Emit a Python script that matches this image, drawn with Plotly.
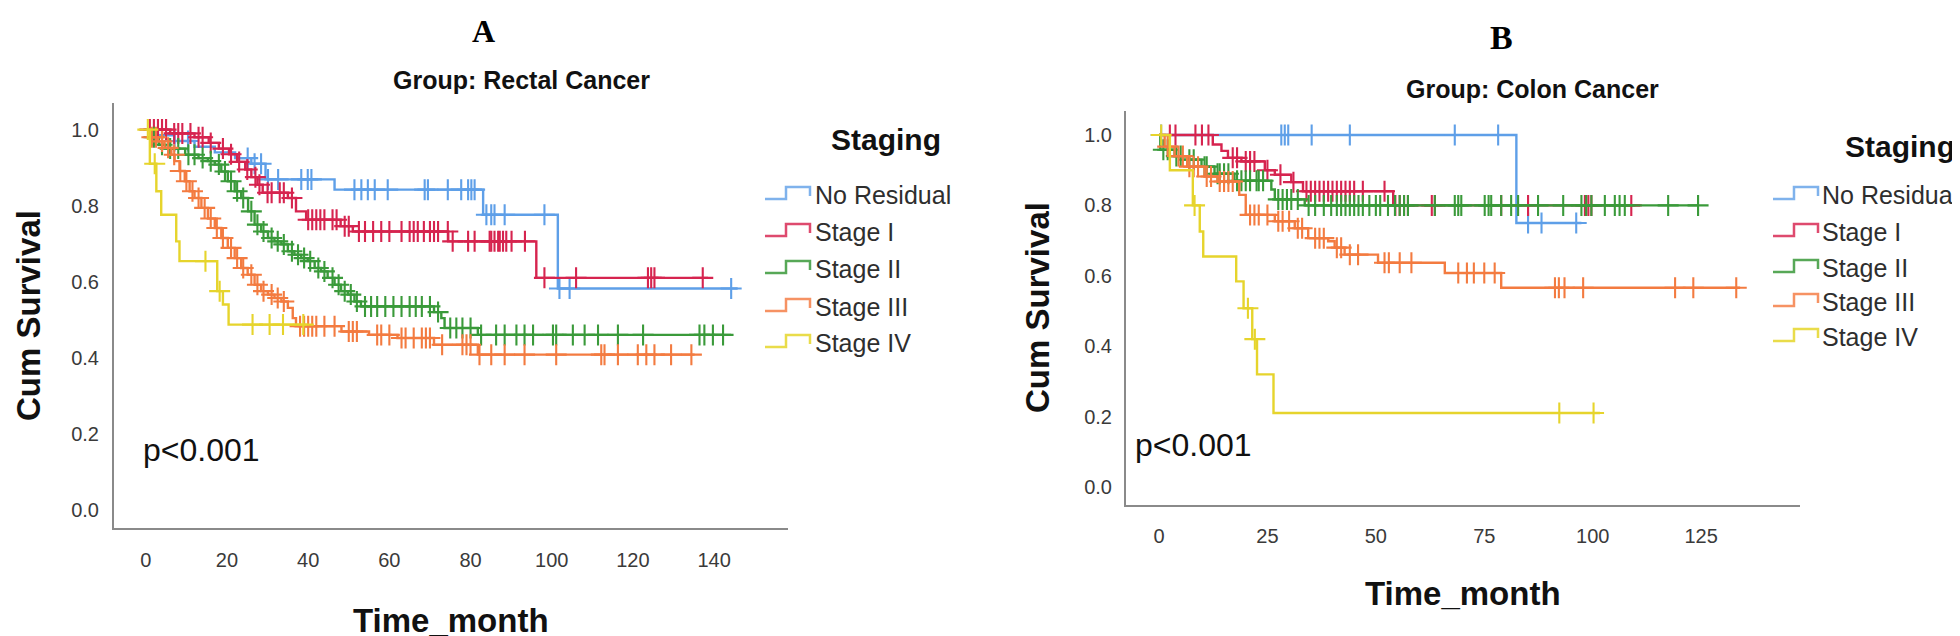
import numpy as np
import plotly.graph_objects as go

W, H = 1960, 636

# ---------------- data ----------------
group_names = ["No Residual", "Stage I", "Stage II", "Stage III", "Stage IV"]
line_colors = ["#5E9FE8", "#D6244F", "#3A9A3A", "#F37B40", "#E6D42C"]
legend_colors = ["#7FB2EC", "#DE4A6E", "#57A857", "#F69263", "#E9DC4A"]

y_ticks = [0.0, 0.2, 0.4, 0.6, 0.8, 1.0]
y_ticklabels = ["0.0", "0.2", "0.4", "0.6", "0.8", "1.0"]
A_x_ticks = [0, 20, 40, 60, 80, 100, 120, 140]
B_x_ticks = [0, 25, 50, 75, 100, 125]

# Panel A: Rectal Cancer (step times, survival after step; last = end of follow-up)
A_nores_t = [0, 3, 7, 12, 17, 22, 26, 29.5, 46.5, 83.1, 101.5, 145.8]
A_nores_s = [1.0, 0.985, 0.97, 0.955, 0.94, 0.925, 0.91, 0.869, 0.842, 0.776, 0.582, 0.582]
A_nores_c = [7.1, 10.4, 25.1, 26.8, 28.4, 30.1, 32.6, 38.3, 39.9, 40.8, 51.4, 53.1, 54.7,
             56.4, 59.6, 68.7, 69.5, 74.4, 77.7, 79.4, 80.2, 81.0, 83.9, 85.1, 85.9, 88.4,
             98.2, 101.9, 104.4, 144.2]

A_s1_t = [0, 6, 12, 15.5, 18, 20.5, 22.5, 24.5, 26, 27.5, 28.8, 35, 37, 39.5, 48, 51, 74.5, 96.2, 138.5]
A_s1_s = [1.0, 0.99, 0.98, 0.965, 0.95, 0.935, 0.915, 0.895, 0.875, 0.855, 0.834, 0.82, 0.785,
          0.763, 0.746, 0.732, 0.706, 0.61, 0.61]
A_s1_c = [1, 2, 3, 4, 5, 7, 8, 9, 11, 13, 14, 16, 19, 21, 23, 25, 27, 28, 30, 31, 33, 34, 36,
          40, 41, 42, 43, 44, 46, 47, 49, 50, 52.5, 54, 56, 58, 60, 63, 65, 66, 67, 68.5, 70,
          71, 72, 74.4, 75.6, 79.4, 81, 84.7, 85.1, 85.9, 86.8, 87.2, 88, 88.8, 90.1, 93.4,
          98.2, 106, 123.7, 124.5, 125.3, 137.2]

A_s2_t = [0, 1.6, 3.2, 4.8, 9.7, 13, 15.3, 17, 18.6, 20.2, 21.9, 23.5, 25.2, 26.8, 28.4, 30.1,
          31.7, 33.4, 35, 36.6, 38.3, 39.9, 41.6, 43.2, 44.8, 46.5, 48.1, 49.8, 51.4, 53, 71,
          72.8, 73.6, 81.8, 144.2]
A_s2_s = [1.0, 0.98, 0.96, 0.95, 0.934, 0.925, 0.917, 0.908, 0.89, 0.864, 0.838, 0.82, 0.785,
          0.75, 0.732, 0.715, 0.706, 0.698, 0.68, 0.671, 0.662, 0.654, 0.636, 0.627, 0.61,
          0.592, 0.575, 0.566, 0.548, 0.535, 0.52, 0.504, 0.478, 0.46, 0.46]
A_s2_c = [2, 4, 6, 8, 10.5, 12, 14, 16, 18, 19.5, 21, 22.5, 24, 26, 27.5, 29, 31, 32.5, 34, 36,
          37.5, 39, 40.5, 42.5, 44, 46, 47.5, 49, 50.5, 52, 54, 55.5, 57, 59, 61, 63, 65, 66.5,
          68, 70, 72, 75, 76.5, 78, 80, 82.6, 86.3, 88.4, 91.3, 93.3, 95.4, 100.3, 101.1,
          105.2, 108.1, 111.4, 116.3, 122.5, 136.4, 137.6, 139.7, 142.2]

A_s3_t = [0, 1.2, 3.0, 4.6, 6.3, 7.1, 8.3, 9.6, 10.8, 12, 13.7, 15.3, 17, 18.6, 20.2, 21.9,
          23.5, 25.1, 26.8, 28.4, 30.1, 31.7, 33.4, 35, 36.2, 37, 48.2, 55, 62, 71, 81.8, 135.2]
A_s3_s = [1.0, 0.98, 0.969, 0.952, 0.934, 0.917, 0.891, 0.864, 0.838, 0.82, 0.794, 0.766,
          0.741, 0.715, 0.689, 0.662, 0.636, 0.618, 0.592, 0.575, 0.566, 0.557, 0.548, 0.531,
          0.504, 0.483, 0.469, 0.46, 0.452, 0.434, 0.408, 0.408]
A_s3_c = [1.5, 2.5, 4, 5.5, 7, 8.5, 10, 11.5, 13, 14.5, 16, 17.5, 19, 21, 22.5, 24, 26, 27.5,
          29, 31, 32.5, 34, 38, 39, 40, 41, 42, 44, 46.5, 50, 51, 52, 57, 58, 60, 63, 64, 66,
          68, 69, 70, 73, 78, 79, 80, 82.2, 85.1, 88.4, 93.3, 101.1, 112.2, 113, 116.3, 121.2,
          123.3, 125.3, 129.4, 134.4]

A_s4_t = [0, 1.0, 2.6, 3.8, 7.5, 8.3, 17.6, 19.0, 20.4, 39.7]
A_s4_s = [1.0, 0.91, 0.838, 0.776, 0.706, 0.654, 0.575, 0.54, 0.487, 0.487]
A_s4_c = [0.5, 2.2, 14.7, 18.2, 26.3, 30.5, 33.8, 38.8]

# Panel B: Colon Cancer
B_nores_t = [0, 82.4, 97.4]
B_nores_s = [1.0, 0.75, 0.75]
B_nores_c = [0.5, 28.2, 29.0, 29.8, 35.2, 44.0, 68.2, 78.2, 85.1, 88.2, 96.2]

B_s1_t = [0, 12.4, 14.4, 15.9, 19, 24.4, 26.7, 30.5, 33.2, 54, 110.9]
B_s1_s = [1.0, 0.973, 0.955, 0.935, 0.925, 0.90, 0.887, 0.866, 0.84, 0.80, 0.80]
B_s1_c = [2.5, 3.8, 8.4, 9.9, 11.4, 17, 18, 20, 21, 22, 25, 28, 31, 34, 35, 36, 37, 38, 39, 40,
          41, 42, 43, 44, 45, 47, 52, 54.5, 55.5, 56.5, 57.4, 62.9, 63.6, 78.9, 85.1, 98.2,
          99.0, 99.7, 108.9]

B_s2_t = [0, 0.3, 3.6, 6.7, 9.8, 12.8, 17.4, 25.9, 26.7, 33.6, 124.5]
B_s2_s = [1.0, 0.958, 0.94, 0.93, 0.91, 0.89, 0.87, 0.845, 0.817, 0.80, 0.80]
B_s2_c = [1, 2, 4, 5, 7, 8, 10.5, 11, 13.5, 14, 15, 16, 18, 19, 20, 21, 22.5, 23, 24, 27.5,
          28.5, 29.5, 30.5, 32, 34.5, 36, 38, 39.7, 41, 42, 43, 44, 45, 46, 47, 48.5, 50, 51,
          52.8, 54.4, 55.5, 56.5, 57.4, 63.6, 68.2, 69, 69.7, 75.1, 76, 76.6, 78.9, 81.2,
          82.8, 87.4, 93.2, 97.4, 98.5, 99.7, 102.8, 105.1, 106.2, 107.4, 117.4, 124.3]

B_s3_t = [0, 1.3, 3.6, 6.5, 10.5, 13.5, 18.5, 20.0, 26.7, 31.3, 34.4, 39, 40.5, 42.8, 50.5,
          65.9, 78.9, 134.0]
B_s3_s = [1.0, 0.967, 0.94, 0.91, 0.882, 0.868, 0.83, 0.773, 0.755, 0.735, 0.707, 0.698,
          0.68, 0.66, 0.637, 0.608, 0.566, 0.566]
B_s3_c = [2, 4.5, 5.5, 7, 8, 9, 11, 12, 14, 15, 16, 17, 21, 22, 23, 25, 27.5, 28.5, 30, 32, 33,
          36, 37, 38, 41, 42, 44, 45.9, 52, 53, 55.5, 58.2, 69, 71, 72.6, 75, 77.4, 91.3, 92.2,
          93.5, 97.8, 119.0, 123.2, 133.1]

B_s4_t = [0, 2.5, 7.8, 9.4, 10.2, 17.8, 19.5, 21.5, 22.6, 26.4, 101.7]
B_s4_s = [1.0, 0.90, 0.80, 0.726, 0.655, 0.584, 0.508, 0.42, 0.32, 0.21, 0.21]
B_s4_c = [0.5, 8.2, 20.5, 22.1, 92.3, 100.2]

panel_A = [(A_nores_t, A_nores_s, A_nores_c), (A_s1_t, A_s1_s, A_s1_c),
           (A_s2_t, A_s2_s, A_s2_c), (A_s3_t, A_s3_s, A_s3_c), (A_s4_t, A_s4_s, A_s4_c)]
panel_B = [(B_nores_t, B_nores_s, B_nores_c), (B_s1_t, B_s1_s, B_s1_c),
           (B_s2_t, B_s2_s, B_s2_c), (B_s3_t, B_s3_s, B_s3_c), (B_s4_t, B_s4_s, B_s4_c)]


def step_at(ts, ss, cs):
    idx = np.searchsorted(np.asarray(ts), np.asarray(cs), side="right") - 1
    return [ss[i] for i in idx]


fig = go.Figure()
for panel, xa, ya in [(panel_A, "x", "y"), (panel_B, "x2", "y2")]:
    for i, (t, s, c) in enumerate(panel):
        fig.add_trace(go.Scatter(x=t, y=s, mode="lines", xaxis=xa, yaxis=ya,
                                 line=dict(color=line_colors[i], width=2.4, shape="hv"),
                                 showlegend=False, hoverinfo="skip"))
        fig.add_trace(go.Scatter(x=c, y=step_at(t, s, c), mode="markers", xaxis=xa, yaxis=ya,
                                 marker=dict(symbol="cross-thin", size=15,
                                             line=dict(color=line_colors[i], width=2.1)),
                                 showlegend=False, hoverinfo="skip"))

FONT = "Liberation Sans, Arial, sans-serif"
axis_common = dict(showgrid=False, zeroline=False, showline=True, linecolor="#8a8a8a",
                   linewidth=2, ticks="outside", tickcolor="rgba(0,0,0,0)",
                   tickfont=dict(family=FONT, size=20, color="#3a3a3a"))

fig.update_layout(
    width=W, height=H, autosize=False,
    margin=dict(l=0, r=0, t=0, b=0),
    paper_bgcolor="white", plot_bgcolor="white",
    xaxis=dict(domain=[106 / W, 780 / W], range=[-7.83, 158.2], tickvals=A_x_ticks,
               anchor="y", ticklen=13, **axis_common),
    yaxis=dict(domain=[1 - 520 / H, 1 - 95 / H], range=[-0.048, 1.07], tickvals=y_ticks,
               ticktext=y_ticklabels, anchor="x", ticklen=9, **axis_common),
    xaxis2=dict(domain=[1118 / W, 1792 / W], range=[-7.61, 147.8], tickvals=B_x_ticks,
                anchor="y2", ticklen=12, **axis_common),
    yaxis2=dict(domain=[1 - 496.7 / H, 1 - 103.3 / H], range=[-0.0503, 1.0673],
                tickvals=y_ticks, ticktext=y_ticklabels, anchor="x2", ticklen=8, **axis_common),
)


def ann(text, x, y, size, family=FONT, color="#111111", xanchor="center", angle=0):
    fig.add_annotation(text=text, x=x / W, y=1 - y / H, xref="paper", yref="paper",
                       showarrow=False, xanchor=xanchor, yanchor="middle", textangle=angle,
                       borderpad=0, font=dict(family=family, size=size, color=color))


SERIF = "Liberation Serif, Times New Roman, serif"
# titles
ann("<b>A</b>", 475, 23, 32, family=SERIF, color="#000")
ann("<b>Group: Rectal Cancer</b>", 513, 72, 25)
ann("<b>B</b>", 1493, 30, 34, family=SERIF, color="#000")
ann("<b>Group: Colon Cancer</b>", 1524, 81, 25)
# axis titles
ann("<b>Cum Survival</b>", 20, 308, 33, angle=-90)
ann("<b>Time_month</b>", 443, 612, 33)
ann("<b>Cum Survival</b>", 1029, 300, 33, angle=-90)
ann("<b>Time_month</b>", 1455, 585, 33)

# p values (data coords)
fig.add_annotation(text="p<0.001", x=-1.2, y=0.158, xref="x", yref="y", showarrow=False,
                   xanchor="left", yanchor="middle", font=dict(family=FONT, size=32, color="#111"))
fig.add_annotation(text="p<0.001", x=-6.0, y=0.12, xref="x2", yref="y2", showarrow=False,
                   xanchor="left", yanchor="middle", font=dict(family=FONT, size=32, color="#111"))

# legends (custom, step-shaped keys)
legend_specs = [
    dict(title_x=878, title_y=131, sym_x=757, text_x=806, rows=[187, 224, 261, 299, 335]),
    dict(title_x=1892, title_y=138, sym_x=1765, text_x=1813, rows=[187, 224, 260, 294, 329]),
]
for spec in legend_specs:
    ann("<b>Staging</b>", spec["title_x"], spec["title_y"], 30)
    for i, yc in enumerate(spec["rows"]):
        x0 = spec["sym_x"]
        pts = [(x0, yc + 4), (x0 + 21, yc + 4), (x0 + 21, yc - 8), (x0 + 45, yc - 8), (x0 + 45, yc + 1)]
        path = "M " + " L ".join(f"{px / W:.5f},{1 - py / H:.5f}" for px, py in pts)
        fig.add_shape(type="path", path=path, xref="paper", yref="paper",
                      line=dict(color=legend_colors[i], width=2.5))
        ann(group_names[i], spec["text_x"], yc, 25, color="#2e2e2e", xanchor="left")

fig.write_html("out.html")
